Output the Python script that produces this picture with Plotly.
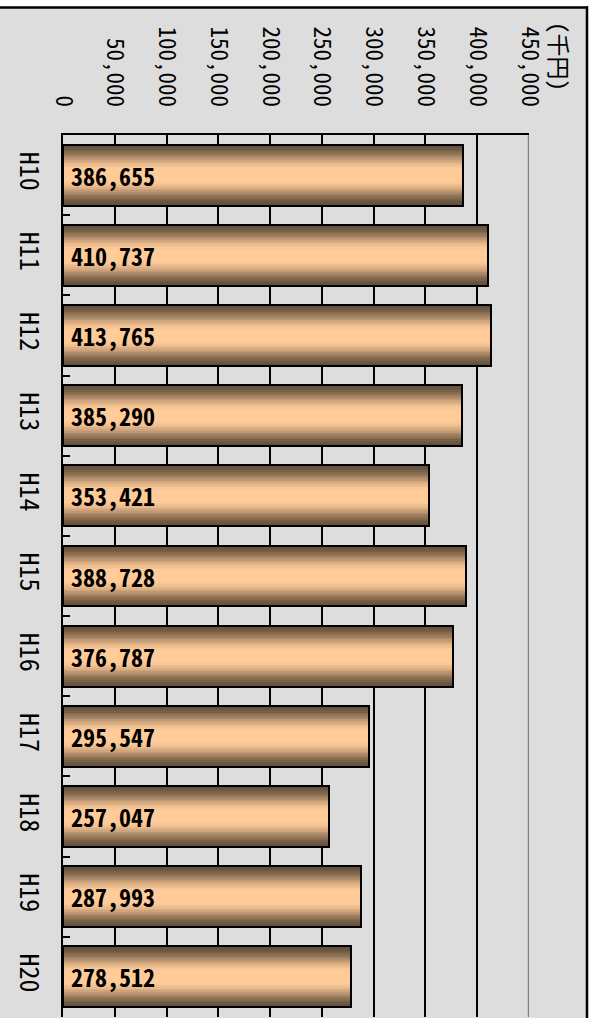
import plotly.graph_objects as go

# Annual amounts (thousand yen), fiscal years H10-H20
years = ["H10", "H11", "H12", "H13", "H14", "H15", "H16", "H17", "H18", "H19", "H20"]
amounts = [386655, 410737, 413765, 385290, 353421, 388728, 376787, 295547, 257047, 287993, 278512]

# Value axis ticks
tick_vals = [0, 50000, 100000, 150000, 200000, 250000, 300000, 350000, 400000, 450000]
tick_text = ["0", "50,000", "100,000", "150,000", "200,000", "250,000",
             "300,000", "350,000", "400,000", "450,000"]
unit_label = "(千円)"

W, H = 594, 1018
ML, MR, MT, MB = 63, 65, 135, 1
PW, PH = W - ML - MR, H - MT - MB

FONT = "Noto Sans Mono CJK JP, Noto Sans CJK JP, DejaVu Sans Mono, sans-serif"
BG = "#DDDDDD"


def px_x(x):
    return (x - ML) / PW


def px_y(y):
    return (H - MB - y) / PH


# Cylinder shading: stacked bars of shrinking thickness, dark at the rim, peach in the middle
DARK = (100, 80, 60)
LIGHT = (255, 204, 153)
BAR_W = 0.76
N_LAYERS = 18

fig = go.Figure()
for k in range(N_LAYERS):
    t = (k + 0.5) / N_LAYERS
    s = min(1.0, t / 0.85)
    f = 3 * s ** 2 - 2 * s ** 3
    c = tuple(round(d + (l - d) * f) for d, l in zip(DARK, LIGHT))
    fig.add_trace(go.Bar(
        x=amounts, y=years, orientation="h",
        width=BAR_W * (1 - k / N_LAYERS),
        marker=dict(color="rgb(%d,%d,%d)" % c, line=dict(width=0)),
        hoverinfo="skip", showlegend=False,
    ))

# Outline on top of the shading
fig.add_trace(go.Bar(
    x=amounts, y=years, orientation="h", width=BAR_W,
    marker=dict(color="rgba(0,0,0,0)", line=dict(color="black", width=2)),
    showlegend=False,
))

# Value labels inside each bar
for yr, v in zip(years, amounts):
    fig.add_annotation(
        x=0, y=yr, xref="x", yref="y", text=f"{v:,}",
        xanchor="left", yanchor="middle", xshift=6, showarrow=False,
        font=dict(family=FONT, size=24, color="black", weight="bold"),
    )

# Unit label
fig.add_annotation(
    x=px_x(560), y=px_y(56), xref="paper", yref="paper", text=unit_label,
    textangle=90, showarrow=False, xanchor="center", yanchor="middle",
    font=dict(family=FONT, size=23, color="black"),
)

shapes = [
    # right plot border in grey
    dict(type="line", xref="x", yref="paper", x0=450000, x1=450000, y0=0, y1=1,
         line=dict(color="#808080", width=2.5)),
    # white page outside the chart frame
    dict(type="rect", xref="paper", yref="paper", x0=px_x(-5), x1=px_x(W + 5),
         y0=px_y(7), y1=px_y(-5), fillcolor="white", line=dict(width=0), layer="above"),
    dict(type="rect", xref="paper", yref="paper", x0=px_x(588), x1=px_x(W + 5),
         y0=px_y(H + 5), y1=px_y(-5), fillcolor="white", line=dict(width=0), layer="above"),
    # chart frame
    dict(type="line", xref="paper", yref="paper", x0=px_x(-5), x1=px_x(588),
         y0=px_y(7.5), y1=px_y(7.5), line=dict(color="black", width=2.5)),
    dict(type="line", xref="paper", yref="paper", x0=px_x(587), x1=px_x(587),
         y0=px_y(6.3), y1=px_y(H + 5), line=dict(color="black", width=2.5)),
]

fig.update_layout(
    width=W, height=H,
    margin=dict(l=ML, r=MR, t=MT, b=MB, pad=0),
    paper_bgcolor=BG, plot_bgcolor=BG,
    barmode="overlay", bargap=0,
    font=dict(family=FONT, size=23, color="black"),
    shapes=shapes,
    xaxis=dict(
        side="top", range=[0, 450000], tickmode="array",
        tickvals=tick_vals, ticktext=tick_text, tickangle=90,
        showgrid=True, gridcolor="black", gridwidth=2,
        zeroline=False, showline=True, linecolor="black", linewidth=2,
        ticks="inside", ticklen=8, tickwidth=2, tickcolor="black",
        ticklabelstandoff=18,
        tickfont=dict(family=FONT, size=23),
    ),
    yaxis=dict(
        type="category", autorange="reversed",
        tickson="boundaries", ticks="inside", ticklen=7, tickwidth=2, tickcolor="black",
        showgrid=False, zeroline=False, showline=True, linecolor="black", linewidth=2,
        tickangle=90, ticklabelstandoff=10,
        tickfont=dict(family=FONT, size=26),
    ),
)

fig.write_html("out.html")
